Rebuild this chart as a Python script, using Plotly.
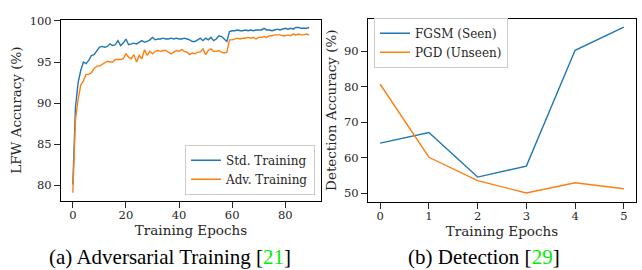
import plotly.graph_objects as go

# ---- data ----
epochs_a = list(range(90))
std_training = [
    80.1, 89.5, 92.5, 94.0, 95.0, 94.8, 95.2, 95.8, 95.9, 96.3,
    96.8, 96.9, 96.8, 96.9, 97.2, 97.0, 97.1, 97.6, 97.0, 97.3,
    97.8, 97.1, 97.2, 97.3, 97.2, 97.4, 97.6, 97.4, 97.5, 97.7,
    98.0, 97.7, 97.8, 97.8, 97.9, 97.8, 97.8, 97.9, 97.8, 97.9,
    97.8, 97.8, 97.9, 97.8, 97.7, 97.5, 97.5, 97.7, 97.9, 97.6,
    97.9, 97.7, 98.0, 97.6, 97.8, 98.2, 98.1, 97.8, 97.5, 98.7,
    98.8, 98.8, 98.9, 98.8, 98.8, 98.9, 98.8, 98.9, 98.8, 98.9,
    98.9, 98.9, 99.1, 98.9, 98.9, 98.8, 98.9, 99.0, 98.9, 99.0,
    99.1, 99.0, 99.1, 99.0, 99.2, 99.2, 99.1, 99.1, 99.1, 99.2,
]
adv_training = [
    79.1, 88.0, 90.5, 92.2, 92.7, 93.5, 93.5, 93.7, 94.2, 94.5,
    94.5, 94.7, 95.0, 95.1, 95.0, 95.0, 95.3, 95.3, 95.3, 95.4,
    96.0, 95.6, 95.4, 95.9, 95.0, 95.8, 95.4, 96.5, 95.8, 96.3,
    96.0, 96.3, 96.4, 96.3, 96.4, 96.4, 96.2, 96.0, 96.2, 96.4,
    96.3, 96.5, 96.3, 96.2, 95.9, 96.1, 96.0, 96.2, 96.2, 96.6,
    95.9, 96.4, 96.6, 96.3, 96.3, 96.4, 96.2, 96.1, 96.2, 97.7,
    97.7, 97.8, 97.9, 97.8, 97.9, 97.9, 98.0, 97.9, 98.0, 97.8,
    98.0, 98.0, 98.1, 98.0, 98.2, 98.2, 98.3, 98.3, 98.3, 98.2,
    98.2, 98.3, 98.2, 98.4, 98.3, 98.4, 98.3, 98.3, 98.4, 98.3,
]

epochs_b = [0, 1, 2, 3, 4, 5]
fgsm_seen = [64.1, 67.1, 54.5, 57.6, 90.3, 96.8]
pgd_unseen = [80.7, 60.1, 53.5, 50.0, 52.9, 51.2]

left_ticks_x = [0, 20, 40, 60, 80]
left_ticks_y = [80, 85, 90, 95, 100]
right_ticks_x = [0, 1, 2, 3, 4, 5]
right_ticks_y = [50, 60, 70, 80, 90]

BLUE = "#1f77b4"
ORANGE = "#ff7f0e"
TXT = "#262626"
SERIF = "DejaVu Serif"
TITLE_FONT = dict(family=SERIF, size=13.5, color=TXT)
LEG_FONT = dict(family=SERIF, size=12, color=TXT)

fig = go.Figure()
fig.add_trace(go.Scatter(x=epochs_a, y=std_training, mode="lines", name="Std. Training",
                         line=dict(color=BLUE, width=1.4), xaxis="x", yaxis="y", legend="legend"))
fig.add_trace(go.Scatter(x=epochs_a, y=adv_training, mode="lines", name="Adv. Training",
                         line=dict(color=ORANGE, width=1.4), xaxis="x", yaxis="y", legend="legend"))
fig.add_trace(go.Scatter(x=epochs_b, y=fgsm_seen, mode="lines", name="FGSM (Seen)",
                         line=dict(color=BLUE, width=1.4), xaxis="x2", yaxis="y2", legend="legend2"))
fig.add_trace(go.Scatter(x=epochs_b, y=pgd_unseen, mode="lines", name="PGD (Unseen)",
                         line=dict(color=ORANGE, width=1.4), xaxis="x2", yaxis="y2", legend="legend2"))

axis_common = dict(showline=True, linecolor="black", linewidth=1.2, mirror=True,
                   showgrid=False, zeroline=False, ticks="outside", ticklen=6,
                   tickwidth=1, tickcolor=TXT,
                   tickfont=dict(family=SERIF, size=11.5, color=TXT))

fig.update_layout(
    width=642, height=270,
    margin=dict(l=0, r=0, t=0, b=0),
    paper_bgcolor="white", plot_bgcolor="white",
    font=dict(family=SERIF, size=11, color=TXT),
    xaxis=dict(domain=[61/642, 321/642], anchor="y", range=[-4.45, 93.45],
               tickvals=left_ticks_x, ticklabelstandoff=-2,
               title=dict(text="Training Epochs", font=TITLE_FONT, standoff=1),
               **axis_common),
    yaxis=dict(domain=[1-199/270, 1-14/270], anchor="x", range=[78.15, 100.15],
               tickvals=left_ticks_y,
               title=dict(text="LFW Accuracy (%)", font=TITLE_FONT, standoff=4),
               **axis_common),
    xaxis2=dict(domain=[368/642, 636/642], anchor="y2", range=[-0.25, 5.25],
                tickvals=right_ticks_x, ticklabelstandoff=-2,
                title=dict(text="Training Epochs", font=TITLE_FONT, standoff=1),
                **axis_common),
    yaxis2=dict(domain=[1-200/270, 1-13/270], anchor="x2", range=[47.6, 99.2],
                tickvals=right_ticks_y,
                title=dict(text="Detection Accuracy (%)", font=TITLE_FONT, standoff=4),
                **axis_common),
    legend=dict(x=315/642, xanchor="right", y=1-193/270, yanchor="bottom",
                bgcolor="rgba(255,255,255,0.9)", bordercolor="#cccccc", borderwidth=1,
                font=LEG_FONT, tracegroupgap=0),
    legend2=dict(x=374/642, xanchor="left", y=1-12/270, yanchor="top",
                 bgcolor="rgba(255,255,255,0.9)", bordercolor="#cccccc", borderwidth=1,
                 font=LEG_FONT, tracegroupgap=0),
    showlegend=True,
)

cap_font = dict(family="Liberation Serif", size=21, color="black")
fig.add_annotation(text="(a) Adversarial Training [<span style='color:#00ee00'>21</span>]",
                   x=170/642, y=1-257/270, xref="paper", yref="paper",
                   xanchor="center", yanchor="middle", showarrow=False, font=cap_font)
fig.add_annotation(text="(b) Detection [<span style='color:#00ee00'>29</span>]",
                   x=484/642, y=1-257/270, xref="paper", yref="paper",
                   xanchor="center", yanchor="middle", showarrow=False, font=cap_font)

fig.write_html("out.html", config={"displayModeBar": False},
               post_script="document.body.style.margin='0';document.body.style.overflow='hidden';")
